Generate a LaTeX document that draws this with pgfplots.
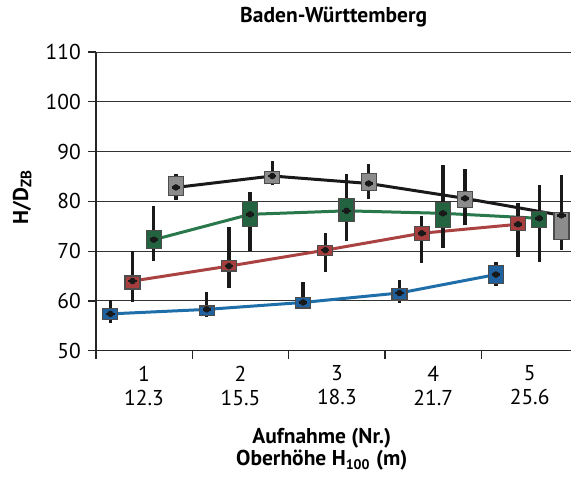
\documentclass[border=0pt]{standalone}
\usepackage{pgfplots}
\pgfplotsset{compat=1.18}
\usepgfplotslibrary{statistics}
\usepackage{fontspec}
\setmainfont{PT Sans}
\definecolor{cB}{RGB}{31,96,158}
\definecolor{cR}{RGB}{166,62,62}
\definecolor{cG}{RGB}{36,99,64}
\definecolor{cK}{RGB}{140,140,140}
\definecolor{lB}{RGB}{30,110,170}
\definecolor{lR}{RGB}{170,66,66}
\definecolor{lG}{RGB}{40,120,75}
\pgfplotsset{
  /pgfplots/boxplot/draw/lower whisker/.code={%
    \draw[line width=1.7pt, black!90] (boxplot box cs:\pgfplotsboxplotvalue{lower whisker},0.5) -- (boxplot box cs:\pgfplotsboxplotvalue{lower quartile},0.5);},
  /pgfplots/boxplot/draw/upper whisker/.code={%
    \draw[line width=1.7pt, black!90] (boxplot box cs:\pgfplotsboxplotvalue{upper quartile},0.5) -- (boxplot box cs:\pgfplotsboxplotvalue{upper whisker},0.5);},
  /pgfplots/boxplot/draw/box/.code={%
    \draw[/pgfplots/boxplot/every box/.try] (boxplot box cs:\pgfplotsboxplotvalue{lower quartile},0) rectangle (boxplot box cs:\pgfplotsboxplotvalue{upper quartile},1);},
  /pgfplots/boxplot/draw/median/.code={%
    \draw[line width=1.3pt, black!90] (boxplot box cs:\pgfplotsboxplotvalue{median},0.22) -- (boxplot box cs:\pgfplotsboxplotvalue{median},0.78);
    \fill[black!90] (boxplot box cs:\pgfplotsboxplotvalue{median},0.5) circle[radius=1.4pt];},
  /pgfplots/boxplot/draw/average/.code={},
  bx/.style={forget plot, boxplot/every box/.style={fill=#1, draw=black!70, line width=0.6pt}},
}
\newcommand{\bp}[7]{\addplot[bx=#1, boxplot prepared={draw position=#2, lower whisker=#3, lower quartile=#4, median=#5, upper quartile=#6, upper whisker=#7, box extend=0.155}] coordinates {};}
\begin{document}
\begin{tikzpicture}
\begin{axis}[
  scale only axis, width=238pt, height=149.5pt,
  xmin=0.5, xmax=5.433, ymin=50, ymax=110,
  clip=false,
  boxplot/draw direction=y,
  axis x line*=bottom, axis y line*=left,
  axis line style={line width=0.6pt, black!85},
  ytick={50,60,...,110},
  ymajorgrids, grid style={line width=0.5pt, black!80},
  xtick={1,2,3,4,5},
  xticklabels={{1\\12.3},{2\\15.5},{3\\18.3},{4\\21.7},{5\\25.6}},
  xticklabel style={align=center},
  minor xtick={0.5,1.5,2.5,3.5,4.5},
  major x tick style={draw=none},
  tick align=outside, major tick length=4pt, minor tick length=4pt,
  tick style={line width=0.6pt, black!85},
  tick label style={font=\fontsize{10.75}{12}\selectfont},
  /pgf/number format/assume math mode=true,
  ylabel={\textbf{H/D\textsubscript{ZB}}},
  ylabel style={at={(axis description cs:-0.155,0.515)}, anchor=center, font=\fontsize{10.75}{12}\selectfont},
  xlabel={Aufnahme (Nr.)\\Oberhöhe H\textsubscript{\fontsize{7}{8}\selectfont 100} (m)},
  xlabel style={at={(axis description cs:0.475,-0.331)}, anchor=center, align=center, font=\bfseries\fontsize{10.75}{10}\selectfont},
  title={Baden-Württemberg},
  title style={at={(axis description cs:0.5,1.06)}, anchor=base, font=\bfseries\fontsize{10.75}{12}\selectfont},
]
\path (axis cs:-0.495,24.71) rectangle (axis cs:5.433,119.03);
% connecting lines (medians)
\addplot[lB, line width=1.5pt, forget plot] coordinates {(0.65,57.4) (1.65,58.3) (2.65,59.7) (3.65,61.6) (4.65,65.3)};
\addplot[lR, line width=1.5pt, forget plot] coordinates {(0.88,64.0) (1.88,67.0) (2.88,70.2) (3.88,73.6) (4.88,75.4)};
\addplot[lG, line width=1.5pt, forget plot] coordinates {(1.10,72.3) (2.10,77.4) (3.10,78.1) (4.10,77.6) (5.10,76.6)};
\addplot[black!90, line width=1.5pt, forget plot] coordinates {(1.33,82.8) (2.33,85.1) (3.33,83.6) (4.33,80.6) (5.33,77.2)};
% blue
\bp{cB}{0.65}{55.5}{56.3}{57.4}{58.5}{60.2}
\bp{cB}{1.65}{56.8}{57.0}{58.3}{59.0}{61.8}
\bp{cB}{2.65}{58.4}{58.6}{59.7}{60.7}{63.8}
\bp{cB}{3.65}{59.6}{60.2}{61.6}{62.5}{64.2}
\bp{cB}{4.65}{63.0}{63.5}{65.3}{67.2}{67.9}
% red
\bp{cR}{0.88}{59.7}{62.4}{64.0}{65.0}{70.1}
\bp{cR}{1.88}{62.7}{66.0}{67.0}{68.2}{74.9}
\bp{cR}{2.88}{65.8}{69.1}{70.2}{71.2}{73.7}
\bp{cR}{3.88}{67.7}{72.1}{73.6}{75.0}{77.1}
\bp{cR}{4.88}{68.9}{74.1}{75.4}{77.0}{79.7}
% green
\bp{cG}{1.10}{68.1}{70.5}{72.3}{74.1}{79.0}
\bp{cG}{2.10}{70.1}{75.0}{77.4}{79.9}{81.9}
\bp{cG}{3.10}{72.1}{75.9}{78.1}{80.6}{85.5}
\bp{cG}{4.10}{70.7}{74.7}{77.6}{79.7}{87.3}
\bp{cG}{5.10}{67.9}{74.7}{76.6}{77.9}{83.3}
% gray
\bp{cK}{1.33}{80.2}{81.2}{82.8}{85.0}{85.6}
\bp{cK}{2.33}{83.2}{83.6}{85.1}{86.0}{88.1}
\bp{cK}{3.33}{80.4}{82.2}{83.6}{85.6}{87.6}
\bp{cK}{4.33}{75.2}{78.8}{80.6}{82.0}{86.6}
\bp{cK}{5.33}{70.2}{72.3}{77.2}{77.7}{85.3}
\end{axis}
\end{tikzpicture}
\end{document}
